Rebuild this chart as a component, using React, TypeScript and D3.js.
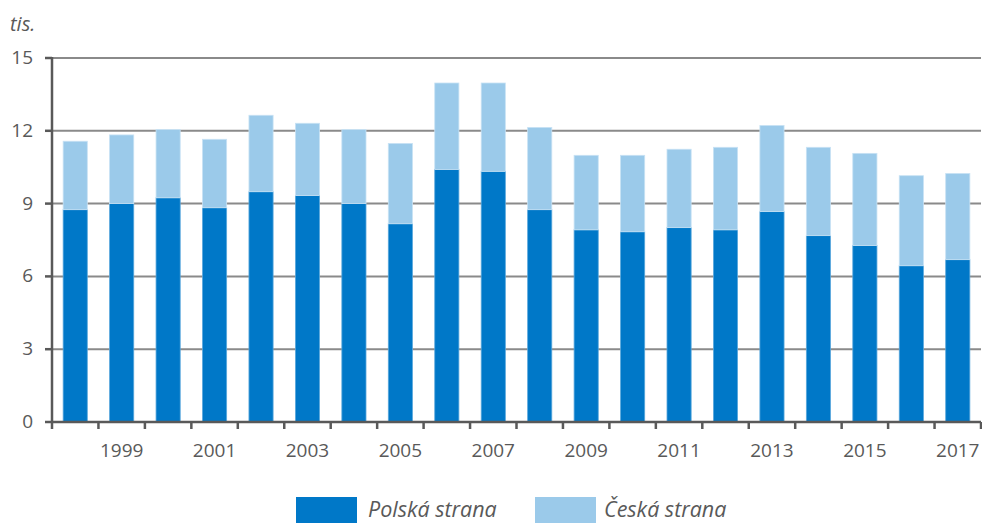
import React from "react";
import * as d3 from "d3";

const years = [1998,1999,2000,2001,2002,2003,2004,2005,2006,2007,2008,2009,2010,2011,2012,2013,2014,2015,2016,2017];
const polish = [8.75,9.0,9.24,8.83,9.49,9.33,9.0,8.17,10.41,10.33,8.75,7.92,7.84,8.01,7.92,8.67,7.68,7.27,6.44,6.69];
const totals = [11.57,11.83,12.05,11.65,12.64,12.31,12.05,11.48,13.97,13.97,12.14,10.99,10.99,11.24,11.32,12.22,11.32,11.07,10.15,10.24];
const czech = totals.map((t, i) => +(t - polish[i]).toFixed(2));
const yTicks = [0,3,6,9,12,15];
const seriesNames = ["Polská strana", "Česká strana"];
const colors = ["#0078C8", "#9BCAEA"];

export default function App() {
  const W = 982, H = 523;
  const x0 = 52, x1 = 981, yTop = 58, yBot = 422;
  const x = d3.scaleBand<number>().domain(years).range([x0, x1]).paddingInner(0.48).paddingOuter(0.24);
  const xb = d3.scaleBand<number>().domain(years).range([x0, x1]).padding(0);
  const y = d3.scaleLinear().domain([0, 15]).range([yBot, yTop]);
  const stack = d3.stack<any>().keys(["p", "c"])(years.map((yr, i) => ({ yr, p: polish[i], c: czech[i] })));
  const font = "'Open Sans', 'Noto Sans', sans-serif";
  const txt = "#595959";
  return (
    <svg width={W} height={H} style={{ position: "absolute", left: 0, top: 0 }} fontFamily={font}>
      <rect width={W} height={H} fill="#fff" />
      <text x={10} y={31} fontSize={20} fontStyle="italic" fill={txt}>tis.</text>
      {yTicks.map(t => (
        <g key={t}>
          {t > 0 && <line x1={x0} x2={x1} y1={y(t)} y2={y(t)} stroke="#8a8a8a" strokeWidth={2} />}
          <line x1={x0 - 7} x2={x0} y1={y(t)} y2={y(t)} stroke={txt} strokeWidth={2.5} />
          <text x={33} y={y(t) + 6} textAnchor="end" fontSize={19} fill={txt}>{t}</text>
        </g>
      ))}
      {stack.map((s, si) => (
        <g key={si}>
          {s.map((d, i) => (
            <rect key={i} x={x(years[i])!} width={x.bandwidth()} y={y(d[1])} height={y(d[0]) - y(d[1])}
              fill={colors[si]} stroke={si === 0 ? "#5aa8dc" : "#c8e2f4"} strokeWidth={0.8} />
          ))}
        </g>
      ))}
      <line x1={x0} x2={x0} y1={yTop - 1} y2={yBot} stroke={txt} strokeWidth={2.5} />
      <line x1={x0} x2={x1} y1={yBot} y2={yBot} stroke={txt} strokeWidth={2.5} />
      {years.map(yr => (
        <line key={yr} x1={xb(yr)!} x2={xb(yr)!} y1={yBot} y2={yBot + 7} stroke={txt} strokeWidth={2.5} />
      ))}
      <line x1={x1} x2={x1} y1={yBot} y2={yBot + 7} stroke={txt} strokeWidth={2.5} />
      {years.filter(yr => yr % 2 === 1).map(yr => (
        <text key={yr} x={xb(yr)! + xb.bandwidth() / 2} y={457} textAnchor="middle" fontSize={19} fill={txt}>{yr}</text>
      ))}
      <rect x={296} y={497} width={61} height={26} fill={colors[0]} />
      <text x={368} y={517} fontSize={21.5} fontStyle="italic" fill={txt}>{seriesNames[0]}</text>
      <rect x={535} y={497} width={61} height={26} fill={colors[1]} />
      <text x={604} y={517} fontSize={21.5} fontStyle="italic" fill={txt}>{seriesNames[1]}</text>
    </svg>
  );
}
